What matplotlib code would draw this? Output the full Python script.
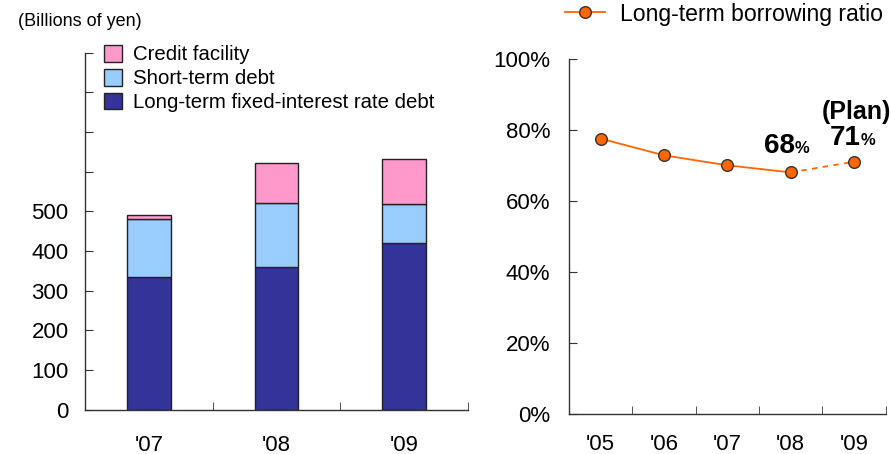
import matplotlib
matplotlib.use("Agg")
import matplotlib.pyplot as plt
from matplotlib.lines import Line2D
from matplotlib.patches import Patch

plt.rcParams['font.family'] = ['Liberation Sans', 'DejaVu Sans']

# Interest-bearing debt (billions of yen)
debt_years = ["'07", "'08", "'09"]
long_term_fixed = [335, 360, 420]
short_term = [147, 162, 98]
credit_facility = [10, 100, 115]
debt_yticks = [0, 100, 200, 300, 400, 500, 600, 700, 800, 900]
debt_ylabels = ['0', '100', '200', '300', '400', '500', '', '', '', '']

# Long-term borrowing ratio (%)
ratio_years = ["'05", "'06", "'07", "'08", "'09"]
ratio_values = [77.5, 72.8, 70, 68, 71]
ratio_yticks = [0, 20, 40, 60, 80, 100]

C_LONG = '#333399'
C_SHORT = '#99CCFF'
C_CREDIT = '#FF99CC'
C_LINE = '#FF6600'
C_AXIS = '#333333'

fig = plt.figure(figsize=(8.9, 4.54), dpi=100)

# ---------------- stacked bars ----------------
ax1 = fig.add_axes([0.0958, 0.0976, 0.4298, 0.7863])
xs = [i + 0.5 for i in range(len(debt_years))]
w = 0.34
bottom2 = [a + b for a, b in zip(long_term_fixed, short_term)]
ax1.bar(xs, long_term_fixed, w, color=C_LONG, edgecolor='#222222', lw=1)
ax1.bar(xs, short_term, w, bottom=long_term_fixed, color=C_SHORT, edgecolor='#222222', lw=1)
ax1.bar(xs, credit_facility, w, bottom=bottom2, color=C_CREDIT, edgecolor='#222222', lw=1)

ax1.set_xlim(0, len(debt_years))
ax1.set_ylim(0, 900)
ax1.set_xticks(xs)
ax1.set_xticklabels(debt_years, fontsize=16)
ax1.set_xticks(range(len(debt_years) + 1), minor=True)
ax1.set_yticks(debt_yticks)
ax1.set_yticklabels(debt_ylabels, fontsize=16)
ax1.tick_params(axis='x', which='major', length=0, pad=18)
ax1.tick_params(axis='x', which='minor', direction='in', length=6, color=C_AXIS)
ax1.tick_params(axis='y', direction='in', length=6, color=C_AXIS, pad=12)
for s in ['top', 'right']:
    ax1.spines[s].set_visible(False)
for s in ['left', 'bottom']:
    ax1.spines[s].set_color(C_AXIS)
    ax1.spines[s].set_linewidth(1)

handles = [Patch(facecolor=C_CREDIT, edgecolor='#222222', label='Credit facility'),
           Patch(facecolor=C_SHORT, edgecolor='#222222', label='Short-term debt'),
           Patch(facecolor=C_LONG, edgecolor='#222222', label='Long-term fixed-interest rate debt')]
fig.legend(handles=handles, loc='upper left', bbox_to_anchor=(104 / 890, (454 - 45) / 454),
           frameon=False, fontsize=14.7, handlelength=0.88, handleheight=0.88,
           handletextpad=0.55, labelspacing=0.22, borderpad=0, borderaxespad=0)

fig.text(18 / 890, 1 - 22 / 454, '(Billions of yen)', fontsize=13, va='center', ha='left')

# ---------------- borrowing ratio line ----------------
ax2 = fig.add_axes([0.6393, 0.0881, 0.3558, 0.7826])
rx = [i + 0.5 for i in range(len(ratio_years))]
mk = dict(marker='o', markersize=8.4, markerfacecolor=C_LINE, markeredgecolor='#333333',
          markeredgewidth=1)
ax2.plot(rx[:-1], ratio_values[:-1], color=C_LINE, lw=1.3, zorder=2)
ax2.plot(rx[-2:], ratio_values[-2:], color=C_LINE, lw=1.3, ls=(0, (3, 3)), zorder=2)
ax2.plot(rx, ratio_values, ls='none', zorder=3, **mk)

ax2.set_xlim(0, len(ratio_years))
ax2.set_ylim(0, 100)
ax2.set_xticks(rx)
ax2.set_xticklabels(ratio_years, fontsize=16)
ax2.set_xticks(range(len(ratio_years) + 1), minor=True)
ax2.set_yticks(ratio_yticks)
ax2.set_yticklabels([f'{v}%' for v in ratio_yticks], fontsize=16)
ax2.tick_params(axis='x', which='major', length=0, pad=14.5)
ax2.tick_params(axis='x', which='minor', direction='in', length=6, color=C_AXIS)
ax2.tick_params(axis='y', direction='in', length=6, color=C_AXIS, pad=13.5)
for s in ['top', 'right']:
    ax2.spines[s].set_visible(False)
for s in ['left', 'bottom']:
    ax2.spines[s].set_color(C_AXIS)
    ax2.spines[s].set_linewidth(1)

# value labels for the last actual year and the plan year
def value_label(ax, x, y, dx, dy):
    ax.annotate(f'{y:.0f}', (x, y), xytext=(dx, dy), textcoords='offset pixels',
                ha='right', va='baseline', fontsize=20, fontweight='bold')
    ax.annotate('%', (x, y), xytext=(dx, dy), textcoords='offset pixels',
                ha='left', va='baseline', fontsize=12, fontweight='bold')

value_label(ax2, rx[3], ratio_values[3], 4, 19)
value_label(ax2, rx[4], ratio_values[4], 7, 17)
ax2.annotate('(Plan)', (rx[4], ratio_values[4]), xytext=(2, 43), textcoords='offset pixels',
             ha='center', va='baseline', fontsize=18, fontweight='bold')

leg_line = Line2D([], [], color=C_LINE, lw=1.3, **mk)
fig.legend(handles=[leg_line], labels=['Long-term borrowing ratio'], loc='center left',
           bbox_to_anchor=(565 / 890, 1 - 14 / 454), frameon=False, fontsize=16.6,
           handlelength=1.75, handletextpad=0.62, borderpad=0, borderaxespad=0)

fig.savefig('out.png', dpi=100)
